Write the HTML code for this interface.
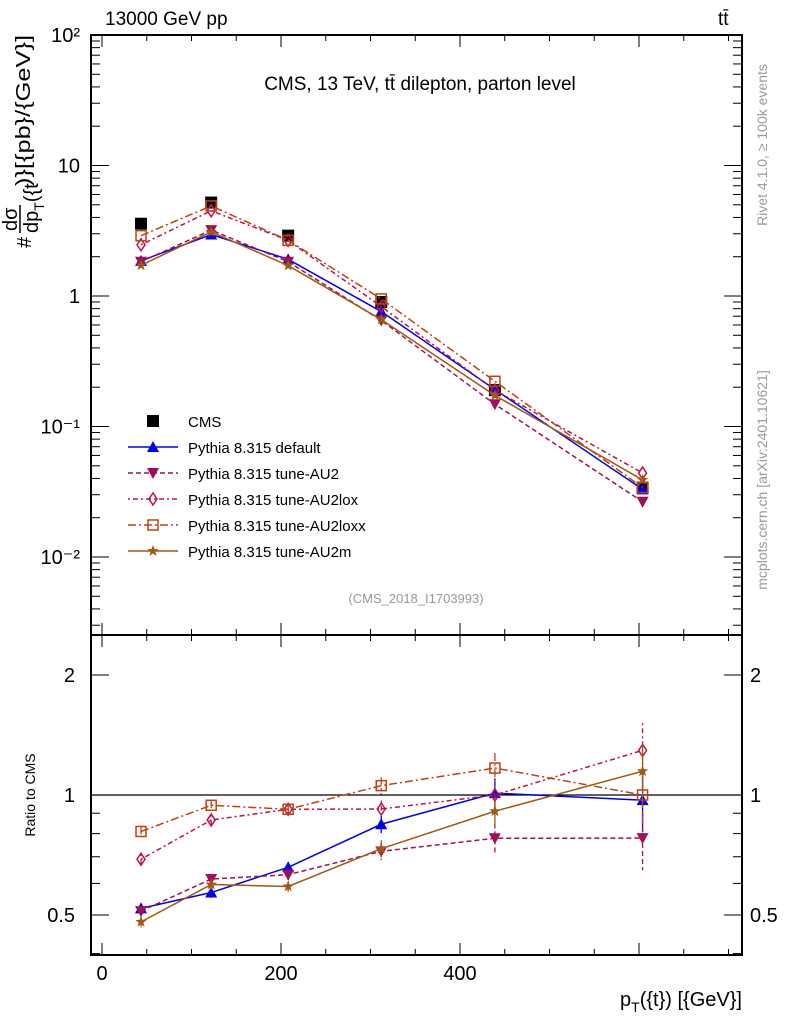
<!DOCTYPE html>
<html><head><meta charset="utf-8"><style>
body{margin:0;background:#fff}
svg{display:block;font-family:"Liberation Sans",sans-serif}
</style></head><body>
<svg id="chart" width="786" height="1024" viewBox="0 0 786 1024" xmlns="http://www.w3.org/2000/svg">
<text x="105" y="25" font-size="19">13000 GeV pp</text>
<text x="718" y="25" font-size="19">tt̄</text>
<text x="420" y="90" font-size="19" text-anchor="middle">CMS, 13 TeV, tt̄ dilepton, parton level</text>
<text x="416" y="603" font-size="13" fill="#999" text-anchor="middle">(CMS_2018_I1703993)</text>
<text transform="translate(767,145) rotate(-90)" font-size="14" fill="#999" text-anchor="middle">Rivet 4.1.0, ≥ 100k events</text>
<text transform="translate(767,480) rotate(-90)" font-size="14" fill="#999" text-anchor="middle">mcplots.cern.ch [arXiv:2401.10621]</text>
<g font-size="20">
<text transform="translate(31,248) rotate(-90)">#</text>
<text transform="translate(17,231) rotate(-90)">dσ</text>
<line x1="20" y1="205" x2="20" y2="233" stroke="#000" stroke-width="1.5"/>
<text transform="translate(38,233) rotate(-90)">dp<tspan font-size="14" dy="6">T</tspan><tspan dy="-6">({t</tspan></text>
<text transform="translate(30,186) rotate(-90)" textLength="151" lengthAdjust="spacingAndGlyphs">)}[{pb}/{GeV}]</text>
</g>
<text transform="translate(35,795) rotate(-90)" font-size="14" text-anchor="middle">Ratio to CMS</text>
<text x="742" y="1006" font-size="20" text-anchor="end">p<tspan font-size="14" dy="6">T</tspan><tspan dy="-6">({t}) [{GeV}]</tspan></text>
<g id="g"></g>
</svg>
<script>
const xs=[43.6,122,208,312,439,604];
const cms=[3.58,5.2,2.9,0.9,0.19,0.034];
const sDefault=[1.86,2.96,1.91,0.76,0.192,0.033];
const sAU2=[1.83,3.2,1.83,0.65,0.148,0.0265];
const sAU2lox=[2.47,4.5,2.67,0.83,0.19,0.044];
const sAU2loxx=[2.9,4.9,2.67,0.95,0.222,0.034];
const sAU2m=[1.72,3.1,1.71,0.66,0.173,0.039];
const relErr=[0.03,0.03,0.03,0.05,0.09,0.17];
const mainTicks=["10²","10","1","10⁻¹","10⁻²"];
const ratioTicks=[2,1,0.5];
const xTicks=[0,200,400];

const NS="http://www.w3.org/2000/svg",G=document.getElementById('g');
function el(t,a,p){const e=document.createElementNS(NS,t);for(const k in a)e.setAttribute(k,a[k]);(p||G).appendChild(e);return e;}
const L=91,R=742,T=35,MB=635,RB=955;
const X=v=>102+v*0.895;
const Y=v=>T+130.5*(2-Math.log10(v));
const YR=r=>795-398.6*Math.log10(r);

let f=el('rect',{x:L,y:T,width:R-L,height:MB-T,fill:'none',stroke:'#000','stroke-width':2});


f=el('rect',{x:L,y:MB,width:R-L,height:RB-MB,fill:'none',stroke:'#000','stroke-width':2});


for(let v=0;v<=700;v+=50){const px=X(v);if(px>R)break;const len=v%200===0?12:6;
 [MB,RB].forEach(b=>el('line',{x1:px,y1:b,x2:px,y2:b-len,stroke:'#000'}));
 [T,MB].forEach(t=>el('line',{x1:px,y1:t,x2:px,y2:t+len,stroke:'#000'}));}
xTicks.forEach(v=>{const t=el('text',{x:X(v),y:980,'font-size':20,'text-anchor':'middle'});t.textContent=v;

});
for(let d=-3;d<2;d++)for(let m=1;m<10;m++){const v=m*Math.pow(10,d);const py=Y(v);if(py>MB||py<T)continue;const len=m===1?18:9;
 el('line',{x1:L,y1:py,x2:L+len,y2:py,stroke:'#000'});el('line',{x1:R,y1:py,x2:R-len,y2:py,stroke:'#000'});}
mainTicks.forEach((s,i)=>{const t=el('text',{x:80,y:T+130.5*i+7,'font-size':20,'text-anchor':'end'});t.textContent=s;

});
[0.4,0.5,0.6,0.7,0.8,0.9,1,2].forEach(r=>{const py=YR(r);const len=(r===0.5||r===1||r===2)?18:9;
 el('line',{x1:L,y1:py,x2:L+len,y2:py,stroke:'#000'});el('line',{x1:R,y1:py,x2:R-len,y2:py,stroke:'#000'});});
ratioTicks.forEach(r=>{[[75,'end'],[750,'start']].forEach(([x,a])=>{const t=el('text',{x:x,y:YR(r)+7,'font-size':20,'text-anchor':a});t.textContent=r;

});});
el('line',{x1:L,y1:YR(1),x2:R,y2:YR(1),stroke:'#000','stroke-width':1.2});

function marker(type,x,y,c,p){
 if(type==='sq')return el('rect',{x:x-6,y:y-6,width:12,height:12,fill:'#000'},p);
 if(type==='tri')return el('polygon',{points:`${x},${y-6} ${x-6},${y+5} ${x+6},${y+5}`,fill:c},p);
 if(type==='itri')return el('polygon',{points:`${x},${y+6} ${x-6},${y-5} ${x+6},${y-5}`,fill:c},p);
 if(type==='dia')return el('polygon',{points:`${x},${y-6} ${x-4},${y} ${x},${y+6} ${x+4},${y}`,fill:'none',stroke:c,'stroke-width':1.5},p);
 if(type==='osq')return el('rect',{x:x-5,y:y-5,width:10,height:10,fill:'none',stroke:c,'stroke-width':1.5},p);
 if(type==='star'){let pts=[];for(let i=0;i<10;i++){const r=i%2?2.5:6,a=-Math.PI/2+i*Math.PI/5;pts.push((x+r*Math.cos(a))+','+(y+r*Math.sin(a)));}return el('polygon',{points:pts.join(' '),fill:c},p);}
}
const series=[
 {n:'Pythia 8.315 default',v:sDefault,c:'#0000ee',m:'tri',d:'',id:'default'},
 {n:'Pythia 8.315 tune-AU2',v:sAU2,c:'#a0105a',m:'itri',d:'5,3',id:'au2'},
 {n:'Pythia 8.315 tune-AU2lox',v:sAU2lox,c:'#c0104a',m:'dia',d:'2,3,5,3',id:'au2lox'},
 {n:'Pythia 8.315 tune-AU2loxx',v:sAU2loxx,c:'#c04010',m:'osq',d:'8,3,2,3',id:'au2loxx'},
 {n:'Pythia 8.315 tune-AU2m',v:sAU2m,c:'#a05a10',m:'star',d:'',id:'au2m'}];
const gc=el('g',{});


cms.forEach((v,i)=>marker('sq',X(xs[i]),Y(v),'#000',gc));
series.forEach(s=>{
 const g=el('g',{});
 
 
 const pm=s.v.map((v,i)=>X(xs[i])+','+Y(v)).join(' ');
 el('polyline',{points:pm,fill:'none',stroke:s.c,'stroke-width':1.5,'stroke-dasharray':s.d},g);
 s.v.forEach((v,i)=>marker(s.m,X(xs[i]),Y(v),s.c,g));
 const gr=el('g',{});
 
 
 const rv=s.v.map((v,i)=>v/cms[i]);
 el('polyline',{points:rv.map((r,i)=>X(xs[i])+','+YR(r)).join(' '),fill:'none',stroke:s.c,'stroke-width':1.5,'stroke-dasharray':s.d},gr);
 rv.forEach((r,i)=>{const x=X(xs[i]);el('line',{x1:x,y1:YR(r*(1+relErr[i])),x2:x,y2:YR(r*(1-relErr[i])),stroke:s.c,'stroke-width':1.3,'stroke-dasharray':s.d},gr);marker(s.m,x,YR(r),s.c,gr);});
});
const lg=el('g',{});


let ly=421;
const e0=el('g',{},lg);


marker('sq',153,ly,'#000',e0);
let t0=el('text',{x:188,y:ly+6,'font-size':15},e0);t0.textContent='CMS';
series.forEach((s,i)=>{const y=447+26*i;const e=el('g',{},lg);
 
 
 el('line',{x1:128,y1:y,x2:178,y2:y,stroke:s.c,'stroke-width':1.5,'stroke-dasharray':s.d},e);
 marker(s.m,153,y,s.c,e);
 const t=el('text',{x:188,y:y+6,'font-size':15},e);t.textContent=s.n;});
</script>
</body></html>
